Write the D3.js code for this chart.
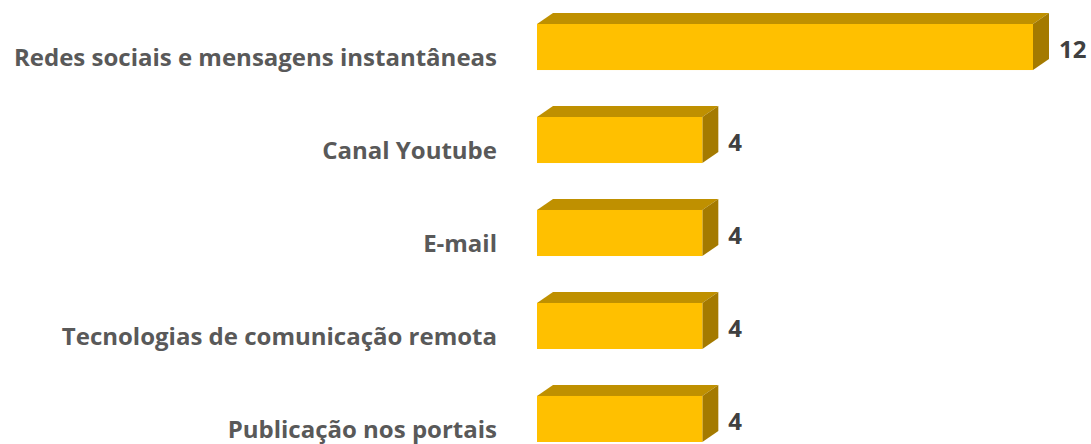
<!DOCTYPE html>
<html>
<head>
<meta charset="utf-8">
<script src="https://cdn.jsdelivr.net/npm/d3@7"></script>
<style>
  html, body { margin: 0; padding: 0; background: #fff; }
  svg { display: block; }
  text { font-family: "Open Sans", sans-serif; font-weight: 700; fill: #595959; }
</style>
</head>
<body>
<svg width="1091" height="444"></svg>
<script>
const categories = [
  'Redes sociais e mensagens instantâneas',
  'Canal Youtube',
  'E-mail',
  'Tecnologias de comunicação remota',
  'Publicação nos portais'
];
const values = [12, 4, 4, 4, 4];

function draw () {
  let svg = d3.select('svg');

  // Scales
  let x = d3.scaleLinear().domain([0, 12]).range([537, 1033]);

  let y = d3.scaleBand()
    .domain(categories)
    .range([24, 442])
    .paddingInner(0.505)
    .paddingOuter(0);

  let depthX = 16, depthY = 11;

  let data = categories.map((c, i) => ({ name: c, value: values[i] }));

  let bar = svg.selectAll('.bar').data(data)
    .enter().append('g')
      .attr('class', 'bar');

  // top face
  bar.append('path')
    .attr('fill', '#BF9000')
    .attr('d', d => {
      let x0 = x(0), x1 = x(d.value), y0 = y(d.name);
      return `M${x0},${y0} L${x0 + depthX},${y0 - depthY} L${x1 + depthX},${y0 - depthY} L${x1},${y0} Z`;
    });

  // side face
  bar.append('path')
    .attr('fill', '#A47A00')
    .attr('d', d => {
      let x1 = x(d.value), y0 = y(d.name), y1 = y0 + y.bandwidth();
      return `M${x1},${y0} L${x1 + depthX},${y0 - depthY} L${x1 + depthX},${y1 - depthY} L${x1},${y1} Z`;
    });

  // front face
  bar.append('rect')
    .attr('fill', '#FFC000')
    .attr('x', x(0))
    .attr('y', d => y(d.name))
    .attr('width', d => x(d.value) - x(0))
    .attr('height', y.bandwidth());

  // value labels
  bar.append('text')
    .attr('x', d => x(d.value) + depthX + 10)
    .attr('y', d => y(d.name) + y.bandwidth() / 2 + 3)
    .attr('dy', '0.35em')
    .attr('font-size', 24)
    .style('fill', '#404040')
    .text(d => d.value);

  // category labels
  bar.append('text')
    .attr('x', 497)
    .attr('y', d => y(d.name) + y.bandwidth() / 2 + 11)
    .attr('dy', '0.35em')
    .attr('text-anchor', 'end')
    .attr('font-size', 24)
    .text(d => d.name);
}

document.addEventListener('DOMContentLoaded', draw);
</script>
</body>
</html>
